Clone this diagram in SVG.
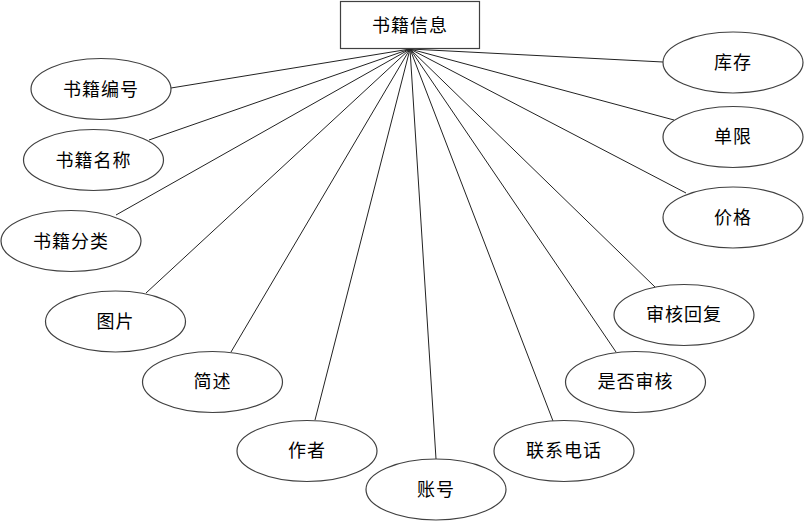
<svg xmlns="http://www.w3.org/2000/svg" width="804" height="523" viewBox="0 0 804 523">
<style>
.n{fill:#fff;stroke:#404040;stroke-width:1.2}
.t{font-family:"Noto Sans CJK SC","Liberation Sans",sans-serif;font-size:18px;fill:#000;text-anchor:middle;dominant-baseline:central;letter-spacing:1px}
.c line{stroke:#222;stroke-width:1}
</style>
<rect width="804" height="523" fill="#fff"/>
<g class="c" id="connectors">
<line x1="410" y1="49" x2="171" y2="88"/>
<line x1="410" y1="49" x2="149" y2="140"/>
<line x1="410" y1="49" x2="116" y2="215"/>
<line x1="410" y1="49" x2="146" y2="293"/>
<line x1="410" y1="49" x2="231" y2="352"/>
<line x1="410" y1="49" x2="315" y2="420"/>
<line x1="410" y1="49" x2="436" y2="459"/>
<line x1="410" y1="49" x2="553" y2="421"/>
<line x1="410" y1="49" x2="616" y2="352"/>
<line x1="410" y1="49" x2="655" y2="287"/>
<line x1="410" y1="49" x2="686" y2="193"/>
<line x1="410" y1="49" x2="674" y2="120"/>
<line x1="410" y1="49" x2="663" y2="62"/>
</g>
<g id="book"><rect class="n" x="340.5" y="1.5" width="139" height="47"/><text class="t" x="410" y="23.5">书籍信息</text></g>
<g id="a1"><ellipse class="n" cx="101" cy="89" rx="70" ry="30.5"/><text class="t" x="101" y="88">书籍编号</text></g>
<g id="a2"><ellipse class="n" cx="93.5" cy="160" rx="70" ry="30.5"/><text class="t" x="93.5" y="159">书籍名称</text></g>
<g id="a3"><ellipse class="n" cx="71" cy="241" rx="70" ry="30.5"/><text class="t" x="71" y="240">书籍分类</text></g>
<g id="a4"><ellipse class="n" cx="115.5" cy="321.5" rx="70" ry="30.5"/><text class="t" x="115.5" y="320">图片</text></g>
<g id="a5"><ellipse class="n" cx="212.5" cy="382" rx="70" ry="30.5"/><text class="t" x="212.5" y="380">简述</text></g>
<g id="a6"><ellipse class="n" cx="307" cy="451" rx="70" ry="30.5"/><text class="t" x="307" y="449">作者</text></g>
<g id="a7"><ellipse class="n" cx="436" cy="489.5" rx="70" ry="30.5"/><text class="t" x="436" y="488">账号</text></g>
<g id="a8"><ellipse class="n" cx="564" cy="451" rx="70" ry="30.5"/><text class="t" x="564" y="449">联系电话</text></g>
<g id="a9"><ellipse class="n" cx="635.5" cy="382" rx="70" ry="30.5"/><text class="t" x="635.5" y="380">是否审核</text></g>
<g id="a10"><ellipse class="n" cx="684" cy="315" rx="70" ry="30.5"/><text class="t" x="684" y="313">审核回复</text></g>
<g id="a11"><ellipse class="n" cx="733" cy="217.5" rx="70" ry="30.5"/><text class="t" x="733" y="216">价格</text></g>
<g id="a12"><ellipse class="n" cx="733" cy="137" rx="70" ry="30.5"/><text class="t" x="733" y="135">单限</text></g>
<g id="a13"><ellipse class="n" cx="733" cy="62.5" rx="70" ry="30.5"/><text class="t" x="733" y="61">库存</text></g>
</svg>
